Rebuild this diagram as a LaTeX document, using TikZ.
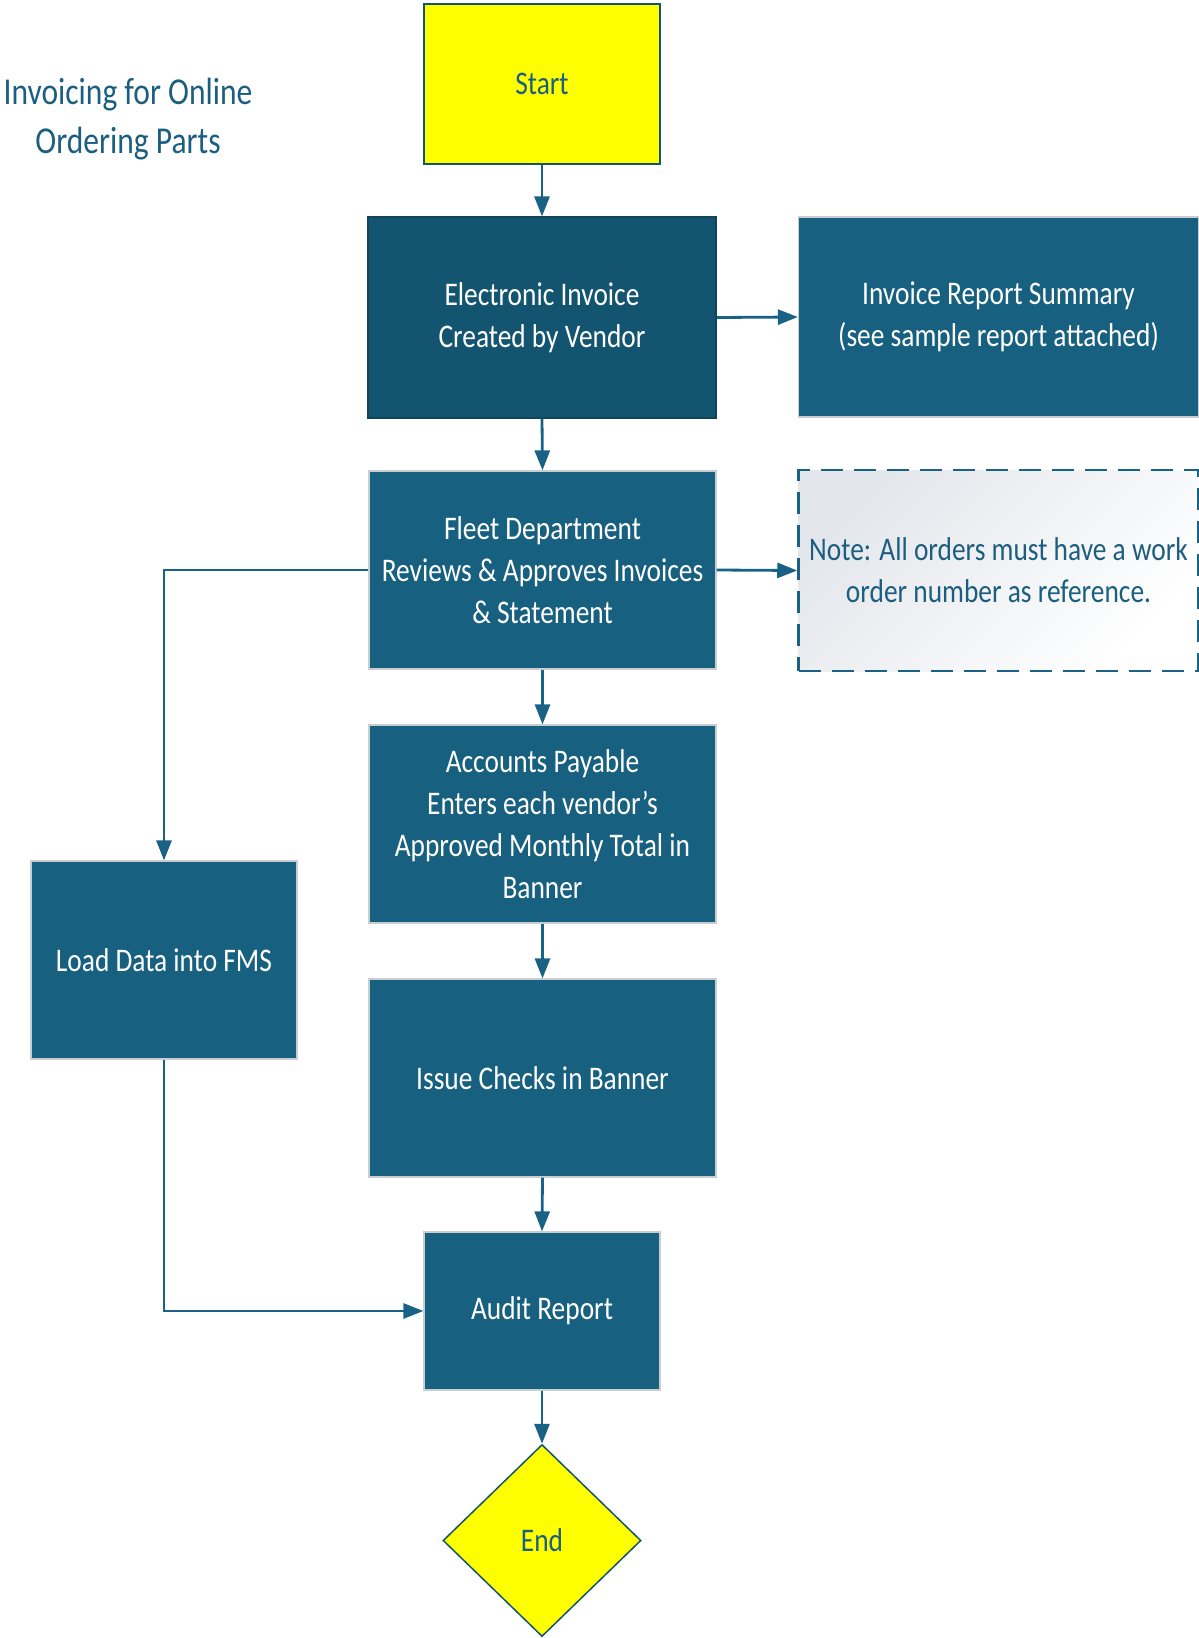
\documentclass[tikz,border=0pt]{standalone}
\usepackage{fontspec}
\setmainfont{Carlito}[FakeStretch=0.83]
\usetikzlibrary{arrows.meta,shapes.geometric}
\definecolor{tealA}{HTML}{18607F}
\definecolor{tealB}{HTML}{135570}
\definecolor{tealtext}{HTML}{1B5E80}
\definecolor{yel}{HTML}{FFFF00}
\definecolor{edgegray}{HTML}{C8CDD2}
\definecolor{linecol}{HTML}{1A6285}
\definecolor{notegray}{HTML}{E3E6EB}
\begin{document}
\begin{tikzpicture}[x=1pt,y=-1pt,
  box/.style={rectangle, fill=tealA, draw=edgegray, line width=1.2pt, text=white,
    align=center, font=\fontsize{33}{42}\selectfont, inner sep=0pt},
  term/.style={box, fill=yel, draw=tealB, text=tealtext},
  conn/.style={draw=linecol, line width=2.8pt, -{Triangle[length=20pt,width=15pt]}},
]
\useasboundingbox (0,0) rectangle (1199,1638);

\node[text=tealtext, align=center, font=\fontsize{38}{49}\selectfont] (title) at (128,119)
  {Invoicing for Online\\Ordering Parts};

\node[term, minimum width=236pt, minimum height=160pt] (start) at (542,84) {Start};
\node[box, fill=tealB, draw=tealB!80!black, minimum width=348pt, minimum height=201pt] (elec) at (542,317.5)
  {Electronic Invoice\\Created by Vendor};
\node[box, minimum width=400pt, minimum height=200pt] (inv) at (998.5,317)
  {Invoice Report Summary\\(see sample report attached)};
\node[box, minimum width=347pt, minimum height=198pt] (fleet) at (542.5,570)
  {Fleet Department\\Reviews \& Approves Invoices\\\& Statement};
\node[box, draw=linecol, line width=2.5pt, dash pattern=on 22pt off 11pt,
  left color=notegray, middle color=white!90!notegray, right color=white, shading angle=45, text=tealtext,
  minimum width=400pt, minimum height=201pt] (note) at (998.5,570.5)
  {Note: All orders must have a work\\order number as reference.};
\node[box, minimum width=347pt, minimum height=198pt] (ap) at (542.5,824)
  {Accounts Payable\\Enters each vendor’s\\Approved Monthly Total in\\Banner};
\node[box, minimum width=266pt, minimum height=198pt] (load) at (164,960)
  {Load Data into FMS};
\node[box, minimum width=347pt, minimum height=198pt] (issue) at (542.5,1078)
  {Issue Checks in Banner};
\node[box, minimum width=236pt, minimum height=158pt] (audit) at (542,1311)
  {Audit Report};
\node[term, diamond, line width=1.5pt, minimum width=198pt, minimum height=192pt] (end) at (542,1540.5)
  {End};

\draw[conn] (start.south) -- (elec.north);
\draw[conn] (elec.east) -- (inv.west);
\draw[conn] (elec.south) -- (fleet.north);
\draw[conn] (fleet.east) -- (note.west);
\draw[conn] (fleet.south) -- (ap.north);
\draw[conn] (fleet.west) -| (load.north);
\draw[conn] (ap.south) -- (issue.north);
\draw[conn] (issue.south) -- (audit.north);
\draw[conn] (load.south) |- (audit.west);
\draw[conn] (audit.south) -- (end.north);
\end{tikzpicture}
\end{document}
